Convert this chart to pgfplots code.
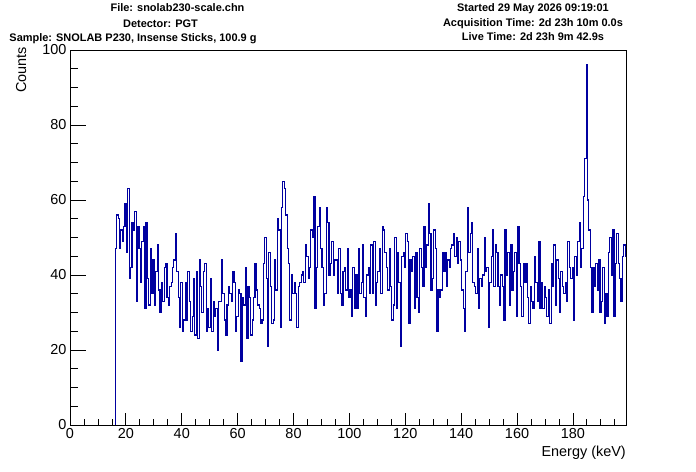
\documentclass[border=0pt]{standalone}
\usepackage{fontspec}
\setmainfont{Liberation Sans}
\usepackage{pgfplots}
\usepackage{pgfplotstable}
\pgfplotsset{compat=1.18}
\definecolor{rootblue}{RGB}{0,0,160}
\pgfplotstableread[row sep=\\]{
y\\
47\\56\\55\\47\\52\\49\\53\\59\\46\\63\\39\\42\\54\\52\\57\\33\\53\\47\\38\\49\\53\\31\\54\\39\\32\\47\\35\\44\\32\\41\\48\\36\\30\\38\\33\\42\\43\\34\\32\\37\\38\\42\\44\\51\\41\\34\\26\\38\\25\\28\\38\\28\\41\\33\\25\\29\\39\\24\\41\\23\\44\\37\\30\\41\\43\\25\\31\\26\\39\\25\\33\\29\\31\\20\\33\\
33\\44\\35\\28\\24\\32\\37\\35\\33\\41\\38\\25\\29\\36\\35\\17\\34\\32\\42\\23\\37\\34\\24\\28\\34\\43\\36\\32\\31\\27\\28\\43\\50\\39\\21\\46\\37\\27\\28\\44\\36\\55\\52\\26\\58\\65\\63\\56\\47\\43\\28\\40\\35\\38\\35\\26\\37\\38\\40\\41\\38\\48\\45\\39\\42\\52\\50\\61\\31\\42\\53\\58\\47\\42\\32\\35\\58\\54\\40\\
43\\49\\40\\44\\44\\35\\47\\35\\32\\41\\42\\36\\47\\34\\36\\29\\42\\31\\40\\31\\47\\35\\38\\48\\34\\29\\40\\42\\35\\48\\35\\49\\32\\38\\41\\47\\35\\53\\52\\46\\42\\36\\47\\37\\28\\32\\50\\31\\46\\38\\21\\45\\46\\42\\51\\49\\27\\44\\41\\45\\31\\46\\34\\30\\47\\42\\37\\53\\42\\48\\59\\51\\36\\39\\52\\47\\25\\36\\
34\\36\\46\\41\\46\\37\\44\\42\\47\\48\\51\\45\\50\\43\\49\\44\\36\\31\\25\\41\\58\\46\\51\\54\\38\\37\\35\\47\\31\\39\\37\\40\\50\\41\\42\\26\\38\\45\\52\\37\\48\\46\\37\\32\\40\\37\\28\\52\\40\\46\\32\\48\\36\\41\\46\\29\\53\\43\\37\\29\\43\\38\\43\\34\\27\\37\\33\\31\\45\\38\\33\\49\\31\\38\\31\\37\\34\\29\\36\\
27\\43\\37\\48\\32\\44\\39\\30\\41\\37\\35\\38\\33\\49\\42\\39\\42\\28\\45\\40\\49\\54\\42\\47\\61\\71\\96\\
60\\52\\42\\30\\42\\37\\43\\36\\44\\30\\33\\42\\27\\35\\29\\46\\50\\40\\52\\29\\43\\51\\43\\39\\33\\45\\48\\45\\
45\\
}\spectrum
\begin{document}
\begin{tikzpicture}[x=1bp,y=1bp]
\path[use as bounding box] (0,0) rectangle (696,-472);
\begin{axis}[
  at={(70bp,-425bp)}, anchor=south west,
  width=556bp, height=375bp, scale only axis,
  xmin=0, xmax=199, ymin=0, ymax=100,
  xtick={0,20,...,180}, ytick={0,20,...,100},
  minor xtick={5,10,...,195}, minor ytick={5,10,...,95},
  tick align=inside, xtick pos=bottom, ytick pos=left,
  xtick style={/pgfplots/major tick length=12bp,/pgfplots/minor tick length=6bp, line width=0.8bp, black},
  ytick style={/pgfplots/major tick length=16bp,/pgfplots/minor tick length=8bp, line width=0.8bp, black},
  axis line style={line width=0.8bp},
  ticklabel style={font=\fontsize{14.5}{16}\selectfont},
  /pgf/number format/assume math mode=true,
]
\addplot[rootblue, line width=0.6bp, no marks] coordinates {(16.2,0) (16.2,47)};
\addplot[const plot mark left, rootblue, line width=1.1bp, no marks] table[x expr=16.2+0.5*\coordindex, y=y] {\spectrum};
\end{axis}
\begin{scope}[every node/.style={inner sep=0pt, font=\fontsize{11}{13}\selectfont\bfseries}]
\node[anchor=base] at (177.5,-12) {File: snolab230-scale.chn};
\node[anchor=base] at (160.5,-27.3) {Detector: PGT};
\node[anchor=base] at (133,-41.7) {Sample: SNOLAB P230, Insense Sticks, 100.9 g};
\node[anchor=base] at (533,-11.7) {Started 29 May 2026 09:19:01};
\node[anchor=base] at (533,-26.7) {Acquisition Time: 2d 23h 10m 0.0s};
\node[anchor=base] at (533,-40.7) {Live Time: 2d 23h 9m 42.9s};
\end{scope}
\node[inner sep=0pt, anchor=base east, font=\fontsize{14.5}{16}\selectfont] at (626,-456) {Energy (keV)};
\node[inner sep=0pt, anchor=base east, rotate=90, font=\fontsize{14.5}{16}\selectfont] at (26,-47) {Counts};
\end{tikzpicture}
\end{document}
